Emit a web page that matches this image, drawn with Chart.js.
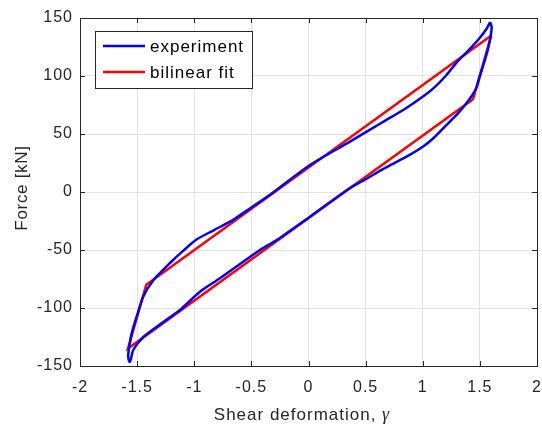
<!DOCTYPE html>
<html>
<head>
<meta charset="utf-8">
<script src="https://cdn.jsdelivr.net/npm/chart.js@4/dist/chart.umd.min.js"></script>
<style>
  html, body { margin: 0; padding: 0; background: #fff; }
  #wrap { width: 542px; height: 428px; }
</style>
</head>
<body>
<div id="wrap"><canvas id="c" width="542" height="428"></canvas></div>
<script>
// ---- data ----
const expX = [1.59, 1.603, 1.595, 1.575, 1.545, 1.50, 1.47, 1.43, 1.37, 1.31, 1.2, 1.1, 1.0, 0.85, 0.655, 0.5, 0.36, 0.013, -0.278, -0.425, -0.775, -0.95, -1.125, -1.27, -1.446, -1.533, -1.555, -1.565, -1.577, -1.577, -1.548, -1.504, -1.446, -1.358, -1.21, -1.1, -0.98, -0.83, -0.66, -0.51, -0.34, 0.013, 0.363, 0.655, 0.85, 1.005, 1.1, 1.2, 1.3, 1.4, 1.5, 1.56, 1.59];
const expY = [146.5, 142, 135, 125, 114, 100, 90, 83, 75, 68, 57, 47, 39, 30, 20, 11, 3.2, -21.3, -41.4, -50, -74.4, -86, -101.7, -112, -125, -136, -144, -146.5, -143, -139, -122, -107.5, -90, -76, -61, -51, -41, -33, -24, -14, -2.6, 23.3, 43.4, 60.6, 72, 82.5, 90, 100, 112, 122, 133, 141, 146.5];
const fitX = [1.6, 1.44, -1.58, -1.42, 1.6];
const fitY = [135, 80, -135, -80, 135];
const xTicks = [-2, -1.5, -1, -0.5, 0, 0.5, 1, 1.5, 2];
const yTicks = [-150, -100, -50, 0, 50, 100, 150];
const seriesNames = ['experiment', 'bilinear fit'];
const seriesColors = ['#0000ff', '#ff0000'];
const xTitle = 'Shear deformation, ';
const xTitleSym = 'γ';
const yTitle = 'Force [kN]';

const zip = (xs, ys) => xs.map((x, i) => ({x: x, y: ys[i]}));
const AX = '#262626';
const FONT = '"Liberation Sans", Arial, sans-serif';

const framePlugin = {
  id: 'frame',
  beforeDraw(chart) {
    chart.ctx.letterSpacing = '1px';
  },
  afterDatasetsDraw(chart) {
    const {ctx, chartArea: a, scales} = chart;
    ctx.save();
    ctx.strokeStyle = AX;
    ctx.lineWidth = 1;
    const tl = 5;
    ctx.beginPath();
    xTicks.forEach(v => {
      const px = Math.round(scales.x.getPixelForValue(v)) + 0.5;
      ctx.moveTo(px, a.bottom); ctx.lineTo(px, a.bottom - tl);
      ctx.moveTo(px, a.top); ctx.lineTo(px, a.top + tl);
    });
    yTicks.forEach(v => {
      const py = Math.round(scales.y.getPixelForValue(v)) + 0.5;
      ctx.moveTo(a.left, py); ctx.lineTo(a.left + tl, py);
      ctx.moveTo(a.right, py); ctx.lineTo(a.right - tl, py);
    });
    ctx.stroke();
    ctx.strokeRect(Math.round(a.left) + 0.5, Math.round(a.top) + 0.5,
                   Math.round(a.right - a.left), Math.round(a.bottom - a.top));

    // legend
    const lx = 95.5, ly = 31.5, lw = 157, lh = 57;
    ctx.fillStyle = '#fff';
    ctx.fillRect(lx, ly, lw, lh);
    ctx.strokeStyle = AX;
    ctx.strokeRect(lx, ly, lw, lh);
    ctx.letterSpacing = '1px';
    ctx.font = '17px ' + FONT;
    ctx.textBaseline = 'middle';
    ctx.textAlign = 'left';
    seriesNames.forEach((n, i) => {
      const yy = 46 + i * 26;
      ctx.strokeStyle = seriesColors[i];
      ctx.lineWidth = 2.5;
      ctx.beginPath(); ctx.moveTo(103, yy); ctx.lineTo(145, yy); ctx.stroke();
      ctx.fillStyle = '#000';
      ctx.fillText(n, 150, yy + 1);
    });

    // axis titles
    ctx.fillStyle = AX;
    ctx.font = '17px ' + FONT;
    const w1 = ctx.measureText(xTitle).width;
    ctx.font = 'italic 18px "Liberation Serif", "DejaVu Serif", serif';
    const w2 = ctx.measureText(xTitleSym).width;
    const cx = 302;
    const sx = cx - (w1 + w2) / 2;
    ctx.textBaseline = 'alphabetic';
    ctx.font = '17px ' + FONT;
    ctx.fillText(xTitle, sx, 420);
    ctx.font = 'italic 18px "Liberation Serif", "DejaVu Serif", serif';
    ctx.fillText(xTitleSym, sx + w1, 420);

    ctx.translate(27, 188);
    ctx.rotate(-Math.PI / 2);
    ctx.font = '17px ' + FONT;
    ctx.letterSpacing = '0.7px';
    ctx.textAlign = 'center';
    ctx.fillText(yTitle, 0, 0);
    ctx.restore();
  }
};

new Chart(document.getElementById('c'), {
  type: 'scatter',
  data: {
    datasets: [
      { label: seriesNames[0], data: zip(expX, expY), showLine: true, borderColor: seriesColors[0],
        borderWidth: 2.5, pointRadius: 0, tension: 0.25, fill: false },
      { label: seriesNames[1], data: zip(fitX, fitY), showLine: true, borderColor: seriesColors[1],
        borderWidth: 2.5, pointRadius: 0, tension: 0, fill: false }
    ]
  },
  options: {
    responsive: false,
    animation: false,
    devicePixelRatio: 1,
    layout: { padding: { top: 18, right: 5, left: 0, bottom: 0 } },
    plugins: { legend: { display: false }, tooltip: { enabled: false } },
    scales: {
      x: {
        type: 'linear', min: -2, max: 2,
        afterFit: s => { s.height = 62; s.paddingLeft = 0; s.paddingRight = 0; },
        afterBuildTicks: s => { s.ticks = xTicks.map(v => ({value: v})); },
        ticks: { font: { size: 16, family: FONT }, color: AX, padding: 12, maxRotation: 0,
                 callback: v => String(v) },
        grid: { color: '#e3e3e3', drawTicks: false, tickLength: 0 },
        border: { display: false }
      },
      y: {
        type: 'linear', min: -150, max: 150,
        afterFit: s => { s.width = 80; s.paddingTop = 0; s.paddingBottom = 0; },
        afterBuildTicks: s => { s.ticks = yTicks.map(v => ({value: v})); },
        ticks: { font: { size: 16, family: FONT }, color: AX, padding: 7,
                 callback: v => String(v) },
        grid: { color: '#e3e3e3', drawTicks: false, tickLength: 0 },
        border: { display: false }
      }
    }
  },
  plugins: [framePlugin]
});
</script>
</body>
</html>
